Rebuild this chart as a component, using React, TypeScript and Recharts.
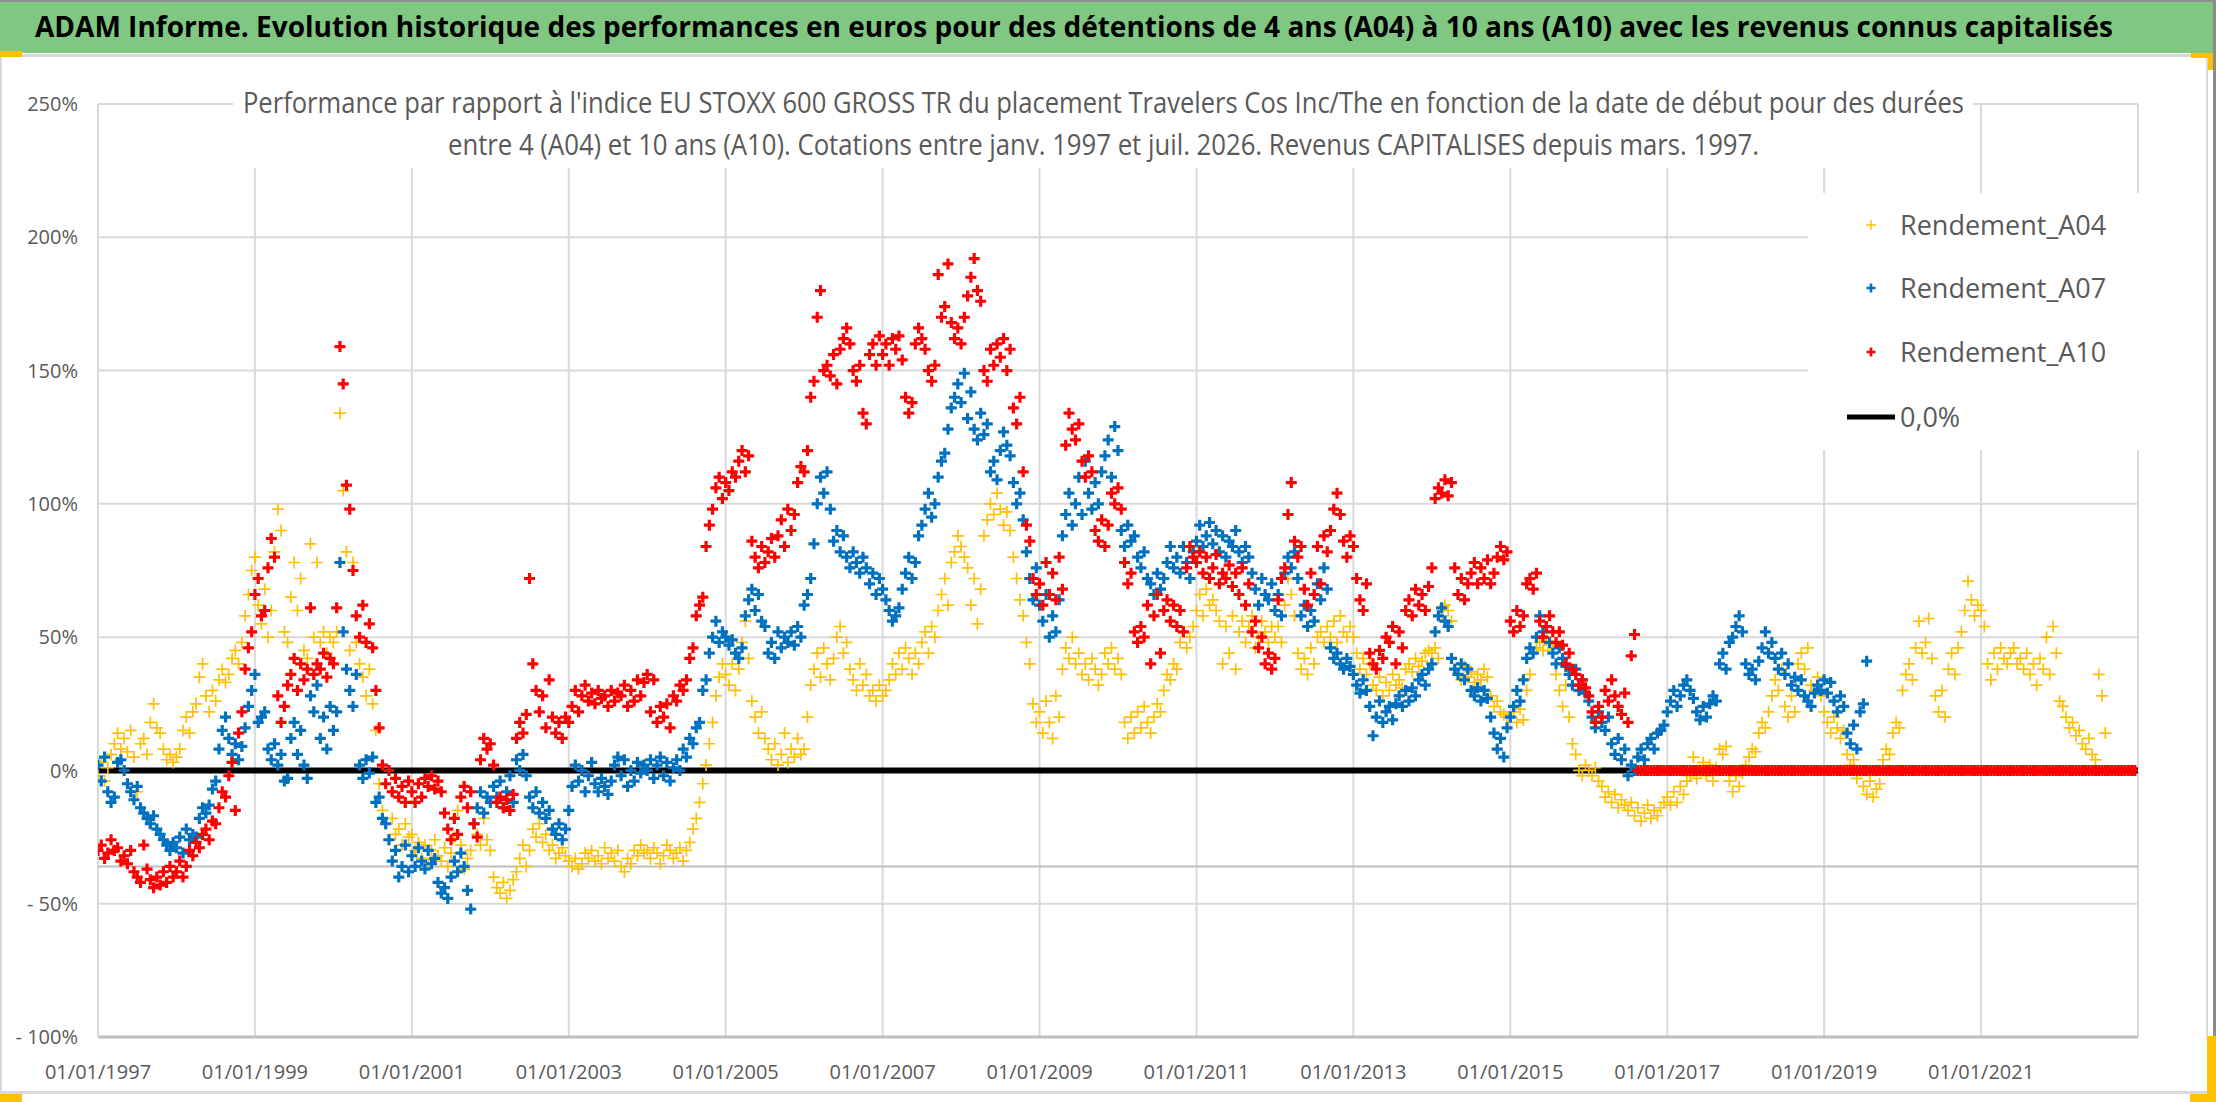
import React from 'react';
import { ComposedChart, Scatter, XAxis, YAxis, CartesianGrid, Legend } from 'recharts';

// ---------- DATA (one row per year, 24 half-month steps per row) ----------
const START_YEAR = 1997;
const STEPS_PER_YEAR = 24;

const A04_ROWS: number[][] = [
  [-2, 3, -4, 1, 6, 10, 14, 8, 12, 7, 15, 5, -8, 10, 12, 6, 18, 25, 16, 14, 8, 4, 6, 3], // 1997
  [5, 8, 15, 20, 14, 22, 25, 35, 40, 28, 22, 30, 26, 34, 38, 33, 36, 42, 45, 40, 48, 58, 66, 75], // 1998
  [80, 62, 55, 68, 50, 60, 82, 98, 90, 52, 48, 65, 78, 60, 72, 45, 42, 85, 50, 78, 48, 52, 44, 50], // 1999
  [48, 52, 134, 105, 82, 45, 78, 48, 40, 35, 28, 38, 25, 15, -5, -15, -20, -26, -18, -24, -22, -28, -20, -25], // 2000
  [-24, -30, -27, -33, -28, -35, -30, -26, -32, -34, -29, -36, -31, -25, -15, -28, -37, -33, -30, -20, -24, -28, -18, -26], // 2001
  [-30, -40, -44, -46, -42, -48, -45, -41, -38, -33, -28, -36, -30, -22, -25, -20, -27, -24, -30, -28, -33, -31, -29, -32], // 2002
  [-34, -36, -33, -37, -35, -31, -33, -30, -34, -32, -35, -29, -33, -31, -34, -30, -36, -38, -33, -35, -30, -32, -28, -31], // 2003
  [-30, -33, -29, -31, -35, -32, -28, -30, -33, -31, -29, -34, -30, -27, -22, -18, -12, -5, 2, 10, 18, 28, 35, 40], // 2004
  [36, 32, 40, 30, 38, 48, 56, 42, 26, 20, 14, 22, 12, 8, 4, 10, 2, 6, 14, 3, 8, 5, 12, 6], // 2005
  [8, 20, 32, 38, 44, 35, 46, 40, 34, 42, 50, 54, 44, 48, 38, 34, 30, 40, 32, 36, 28, 30, 26, 32], // 2006
  [28, 30, 34, 40, 36, 44, 38, 46, 42, 36, 44, 40, 48, 52, 44, 54, 50, 60, 66, 72, 62, 78, 82, 88], // 2007
  [84, 80, 76, 62, 72, 55, 68, 88, 94, 100, 96, 104, 98, 92, 97, 90, 80, 72, 64, 58, 48, 40, 25, 18], // 2008
  [22, 14, 26, 18, 12, 28, 20, 38, 46, 42, 50, 40, 44, 36, 40, 34, 42, 38, 32, 36, 44, 40, 46, 38], // 2009
  [42, 36, 18, 12, 20, 14, 22, 16, 24, 18, 14, 20, 25, 22, 30, 36, 34, 40, 38, 48, 52, 46, 50, 54], // 2010
  [60, 66, 58, 68, 62, 64, 60, 56, 40, 54, 44, 58, 38, 52, 56, 48, 54, 58, 46, 50, 56, 52, 48, 54], // 2011
  [50, 54, 48, 62, 72, 66, 58, 44, 38, 42, 36, 46, 40, 50, 52, 48, 54, 50, 56, 48, 58, 52, 50, 54], // 2012
  [50, 44, 38, 42, 36, 40, 32, 30, 35, 28, 33, 30, 36, 32, 34, 31, 38, 40, 37, 42, 39, 41, 44, 45], // 2013
  [44, 46, 42, 58, 62, 60, 56, 38, 36, 34, 39, 35, 37, 33, 36, 34, 38, 35, 28, 24, 26, 22, 21, 20], // 2014
  [20, 22, 18, 23, 19, 30, 36, 44, 46, 48, 45, 50, 47, 46, 36, 30, 24, 32, 20, 10, 6, 0, -2, 2], // 2015
  [0, -2, 1, -4, -6, -10, -8, -12, -9, -14, -11, -13, -15, -12, -17, -14, -19, -16, -13, -18, -15, -17, -14, -12], // 2016
  [-10, -13, -8, -12, -6, -9, -4, -2, 5, -3, 0, 3, -2, 2, -4, 1, 8, 6, 9, -4, -8, -2, -6, -1], // 2017
  [2, 5, 8, 7, 14, 18, 16, 22, 28, 34, 30, 38, 24, 20, 28, 22, 40, 44, 38, 46, 32, 30, 35, 28], // 2018
  [22, 18, 14, 20, 16, 12, 15, 6, 2, 4, -3, 0, -6, -9, -4, -10, -7, -5, 4, 8, 6, 14, 18, 16], // 2019
  [30, 36, 40, 34, 46, 56, 44, 48, 57, 42, 28, 22, 30, 20, 38, 44, 36, 46, 52, 60, 71, 64, 58, 62], // 2020
  [60, 54, 40, 34, 44, 38, 46, 42, 40, 44, 46, 40, 42, 38, 44, 36, 40, 32, 42, 38, 50, 36, 54, 44], // 2021
  [26, 24, 20, 16, 18, 13, 15, 10, 8, 12, 6, 4, 36, 28, 14], // 2022
];

const A07_ROWS: number[][] = [
  [2, -4, 5, -8, -12, -10, 3, 4, 0, -5, -8, -11, -6, -14, -16, -18, -20, -17, -22, -24, -26, -28, -30, -27], // 1997
  [-29, -25, -31, -22, -26, -24, -25, -18, -14, -16, -13, -7, -4, 8, 15, 20, 12, 6, 10, 4, 9, 16, 24, 30], // 1998
  [36, 18, 20, 22, 8, 4, 10, 2, 6, -4, -3, 12, 18, 6, 15, 2, -3, 28, 22, 32, 12, 20, 8, 24], // 1999
  [15, 22, 78, 52, 38, 30, 24, 36, 2, -3, 4, -1, 5, -12, -10, -18, -20, -26, -34, -30, -40, -36, -28, -38], // 2000
  [-32, -36, -29, -34, -37, -30, -35, -33, -42, -46, -44, -48, -40, -34, -38, -31, -36, -45, -52, -20, -14, -8, -16, -10], // 2001
  [-12, -6, -10, -4, -14, -8, -2, -12, 4, 0, 6, -2, -10, -14, -8, -16, -12, -18, -15, -22, -24, -20, -26, -22], // 2002
  [-15, -6, 2, -4, 0, -8, -2, 3, -5, -8, -3, -6, -9, -4, 2, 5, -2, 4, -6, 0, -4, 3, -1, 2], // 2003
  [0, 4, -3, 2, 5, -2, 3, -4, 1, 4, 0, 8, 5, 12, 10, 16, 18, 30, 34, 44, 50, 56, 48, 52], // 2004
  [50, 47, 49, 44, 42, 46, 58, 64, 68, 60, 66, 56, 54, 44, 48, 42, 52, 46, 50, 48, 52, 47, 54, 50], // 2005
  [62, 66, 72, 85, 100, 110, 104, 112, 98, 86, 90, 82, 88, 80, 76, 82, 78, 74, 80, 76, 70, 74, 66, 72], // 2006
  [68, 64, 60, 56, 58, 61, 68, 74, 80, 72, 78, 88, 92, 98, 104, 95, 100, 110, 116, 119, 128, 136, 140, 145], // 2007
  [138, 149, 132, 142, 128, 124, 134, 126, 130, 112, 116, 109, 120, 127, 122, 118, 108, 100, 104, 94, 82, 72, 64, 76], // 2008
  [62, 56, 66, 50, 58, 52, 64, 88, 96, 104, 92, 100, 110, 96, 116, 104, 98, 108, 100, 112, 118, 124, 110, 129], // 2009
  [120, 90, 84, 92, 86, 88, 80, 76, 82, 72, 70, 66, 74, 68, 72, 78, 84, 76, 80, 74, 84, 78, 72, 82], // 2010
  [86, 92, 84, 88, 93, 85, 90, 82, 88, 80, 86, 84, 90, 82, 78, 84, 80, 74, 68, 62, 72, 66, 64, 70], // 2011
  [60, 66, 58, 74, 80, 76, 82, 72, 58, 62, 54, 60, 56, 70, 64, 76, 68, 46, 42, 44, 40, 38, 42, 39], // 2012
  [36, 32, 29, 34, 30, 24, 13, 20, 26, 18, 22, 24, 19, 25, 28, 24, 30, 26, 31, 28, 34, 36, 32, 38], // 2013
  [40, 52, 58, 61, 56, 54, 42, 38, 36, 40, 34, 38, 30, 28, 31, 26, 30, 27, 20, 14, 8, 12, 5, 16], // 2014
  [20, 24, 30, 26, 34, 42, 46, 44, 50, 58, 52, 54, 48, 44, 40, 46, 42, 39, 36, 32, 38, 30, 34, 29], // 2015
  [26, 20, 16, 22, 18, 15, 20, 10, 6, 12, 4, 8, -2, 2, 0, 5, 8, 4, 10, 12, 8, 14, 15, 17], // 2016
  [22, 26, 30, 24, 28, 32, 34, 30, 27, 22, 19, 24, 20, 25, 28, 26, 40, 44, 38, 48, 50, 54, 58, 52], // 2017
  [40, 36, 38, 34, 41, 46, 52, 44, 48, 42, 38, 44, 36, 40, 32, 35, 30, 34, 28, 26, 24, 29, 32, 30], // 2018
  [34, 29, 33, 26, 22, 28, 24, 14, 10, 17, 8, 22, 25, 41], // 2019
];

const A10_ROWS: number[][] = [
  [-30, -28, -33, -31, -26, -30, -29, -34, -32, -35, -30, -38, -40, -42, -28, -37, -41, -44, -40, -43, -38, -42, -36, -40], // 1997
  [-38, -34, -40, -36, -30, -32, -27, -29, -24, -22, -26, -19, -20, -14, -8, -10, -2, 3, -15, 14, 22, 38, 46, 52], // 1998
  [66, 72, 58, 60, 76, 87, 80, 28, 18, 24, 32, 36, 42, 30, 40, 34, 38, 61, 36, 40, 38, 44, 35, 42], // 1999
  [40, 61, 159, 145, 107, 98, 75, 58, 50, 62, 48, 55, 46, 30, 16, 2, -5, 0, -8, -3, -10, -6, -12, -4], // 2000
  [-8, -12, -5, -10, -3, -6, -2, -7, -4, -8, -16, -22, -26, -18, -24, -10, -6, -14, -8, -20, -25, 4, 12, 8], // 2001
  [10, 2, -12, -10, -14, -11, -15, -9, 12, 18, 14, 21, 72, 40, 30, 22, 28, 16, 34, 20, 14, 18, 12, 20], // 2002
  [18, 24, 30, 22, 28, 32, 26, 29, 25, 30, 27, 28, 24, 30, 26, 29, 28, 32, 24, 30, 26, 34, 28, 33], // 2003
  [36, 22, 34, 18, 24, 20, 25, 16, 28, 26, 32, 30, 34, 42, 46, 58, 62, 65, 84, 92, 98, 106, 110, 102], // 2004
  [108, 105, 112, 110, 116, 120, 112, 118, 86, 80, 76, 84, 78, 82, 87, 80, 88, 94, 84, 98, 90, 96, 108, 114], // 2005
  [112, 120, 140, 146, 170, 180, 150, 152, 148, 156, 145, 158, 162, 166, 160, 150, 146, 152, 134, 130, 156, 160, 152, 163], // 2006
  [156, 160, 152, 162, 158, 163, 154, 140, 134, 138, 160, 166, 162, 158, 150, 146, 152, 186, 170, 174, 190, 168, 162, 166], // 2007
  [160, 170, 178, 185, 192, 180, 176, 150, 146, 158, 152, 160, 155, 162, 150, 158, 136, 130, 140, 112, 92, 86, 72, 66], // 2008
  [70, 62, 78, 66, 74, 64, 80, 68, 122, 134, 128, 124, 130, 116, 110, 118, 112, 90, 86, 94, 84, 92, 104, 100], // 2009
  [106, 98, 78, 70, 74, 52, 48, 54, 50, 62, 40, 58, 66, 44, 60, 64, 56, 62, 54, 60, 52, 76, 84, 80], // 2010
  [78, 82, 74, 80, 72, 76, 81, 70, 74, 72, 77, 69, 74, 66, 76, 62, 70, 52, 56, 46, 50, 40, 44, 38], // 2011
  [42, 64, 72, 76, 96, 108, 86, 80, 84, 68, 62, 74, 66, 84, 70, 88, 82, 90, 98, 104, 96, 86, 80, 88], // 2012
  [84, 72, 64, 60, 70, 44, 40, 38, 45, 42, 50, 48, 54, 40, 52, 46, 60, 64, 58, 68, 62, 66, 60, 69], // 2013
  [76, 102, 106, 104, 109, 103, 108, 76, 66, 72, 64, 70, 74, 78, 70, 76, 72, 79, 70, 74, 80, 84, 79, 82], // 2014
  [56, 52, 60, 54, 58, 70, 72, 68, 74, 56, 50, 54, 58, 52, 48, 52, 47, 40, 44, 38, 36, 32, 34, 31], // 2015
  [28, 22, 18, 24, 20, 30, 26, 34, 28, 24, 21, 29, 18, 43, 51, 0, 0, 0, 0, 0, 0, 0, 0, 0], // 2016
  [0, 0, 0, 0, 0, 0, 0, 0, 0, 0, 0, 0, 0, 0, 0, 0, 0, 0, 0, 0, 0, 0, 0, 0], // 2017
  [0, 0, 0, 0, 0, 0, 0, 0, 0, 0, 0, 0, 0, 0, 0, 0, 0, 0, 0, 0, 0, 0, 0, 0], // 2018
  [0, 0, 0, 0, 0, 0, 0, 0, 0, 0, 0, 0, 0, 0, 0, 0, 0, 0, 0, 0, 0, 0, 0, 0], // 2019
  [0, 0, 0, 0, 0, 0, 0, 0, 0, 0, 0, 0, 0, 0, 0, 0, 0, 0, 0, 0, 0, 0, 0, 0], // 2020
  [0, 0, 0, 0, 0, 0, 0, 0, 0, 0, 0, 0, 0, 0, 0, 0, 0, 0, 0, 0, 0, 0, 0, 0], // 2021
  [0, 0, 0, 0, 0, 0, 0, 0, 0, 0, 0, 0, 0, 0, 0, 0, 0, 0, 0, 0, 0, 0, 0, 0], // 2022
];

const X_TICKS = [1997, 1999, 2001, 2003, 2005, 2007, 2009, 2011, 2013, 2015, 2017, 2019, 2021];
const Y_TICKS = [-100, -50, 0, 50, 100, 150, 200, 250];
const X_DOMAIN: [number, number] = [1997, 2023];
const Y_DOMAIN: [number, number] = [-100, 250];
const ZERO_LEVEL = 0;
const FLOOR_LEVEL = -36;

const TITLE = 'ADAM Informe. Evolution historique des performances en euros pour des détentions de 4 ans (A04) à 10 ans (A10) avec les revenus connus capitalisés';
const SUBTITLE_1 = "Performance par rapport à l'indice EU STOXX 600 GROSS TR  du placement Travelers Cos Inc/The en fonction de la date de début pour des durées";
const SUBTITLE_2 = 'entre 4 (A04) et 10 ans (A10). Cotations entre janv. 1997 et juil. 2026. Revenus CAPITALISES depuis mars. 1997.';

const SERIES = [
  { name: 'Rendement_A04', color: '#FFC000', rows: A04_ROWS, arm: 6, sw: 1.7 },
  { name: 'Rendement_A07', color: '#0070C0', rows: A07_ROWS, arm: 5.5, sw: 3.2 },
  { name: 'Rendement_A10', color: '#FF0000', rows: A10_ROWS, arm: 5.5, sw: 3.2 },
];

// ---------- helpers ----------
function toPoints(rows: number[][]) {
  const out: { x: number; y: number }[] = [];
  rows.forEach((row, r) => {
    row.forEach((v, i) => {
      out.push({ x: START_YEAR + r + i / STEPS_PER_YEAR, y: v });
    });
  });
  return out;
}

const levelLine = (level: number) => [
  { x: X_DOMAIN[0], y: level },
  { x: X_DOMAIN[1], y: level },
];

const makePlus = (color: string, arm: number, sw: number) => (props: any) => {
  const { cx, cy } = props;
  if (cx == null || cy == null || isNaN(cx) || isNaN(cy)) return <g />;
  return (
    <path
      d={`M${cx - arm} ${cy}H${cx + arm}M${cx} ${cy - arm}V${cy + arm}`}
      stroke={color}
      strokeWidth={sw}
      fill="none"
    />
  );
};

const noShape = () => <g />;

const fmtPct = (v: number) => (v < 0 ? `- ${Math.abs(v)}%` : `${v}%`);
const fmtDate = (v: number) => `01/01/${v}`;

const FONT = "'Open Sans', 'Noto Sans', sans-serif";
const TEXT_GREY = '#595959';

const LegendBox = () => {
  const rows = [
    { label: SERIES[0].name, color: SERIES[0].color, arm: 5, sw: 1.4, y: 32 },
    { label: SERIES[1].name, color: SERIES[1].color, arm: 4.5, sw: 2.6, y: 95 },
    { label: SERIES[2].name, color: SERIES[2].color, arm: 4.5, sw: 2.6, y: 159 },
  ];
  return (
    <svg width={332} height={257} style={{ background: '#fff', display: 'block' }}>
      <rect x={0} y={0} width={332} height={257} fill="#fff" />
      {rows.map((r) => (
        <g key={r.label}>
          <path
            d={`M${63 - r.arm} ${r.y}H${63 + r.arm}M63 ${r.y - r.arm}V${r.y + r.arm}`}
            stroke={r.color}
            strokeWidth={r.sw}
          />
          <text x={92} y={r.y} dy="0.36em" fontFamily={FONT} fontSize={27} fill={TEXT_GREY}>
            {r.label}
          </text>
        </g>
      ))}
      <line x1={39} x2={87} y1={224} y2={224} stroke="#000" strokeWidth={5} />
      <text x={92} y={224} dy="0.36em" fontFamily={FONT} fontSize={27} fill={TEXT_GREY}>
        0,0%
      </text>
    </svg>
  );
};

export default function App() {
  const seriesPoints = SERIES.map((s) => ({ ...s, points: toPoints(s.rows) }));
  return (
    <div
      style={{
        position: 'absolute',
        left: 0,
        top: 0,
        width: 2216,
        height: 1102,
        background: '#fff',
        overflow: 'hidden',
        fontFamily: FONT,
      }}
    >
      <div style={{ position: 'absolute', left: 0, top: 0 }}>
        <ComposedChart width={2216} height={1102} margin={{ top: 104, right: 78, bottom: 0, left: 8 }}>
          <CartesianGrid stroke="#D9D9D9" strokeWidth={2} />
          <XAxis
            type="number"
            dataKey="x"
            domain={X_DOMAIN}
            ticks={X_TICKS}
            interval={0}
            height={65}
            tickSize={0}
            tickMargin={28}
            tickLine={false}
            axisLine={{ stroke: '#BFBFBF', strokeWidth: 3 }}
            tick={{ fill: TEXT_GREY, fontSize: 20, fontFamily: FONT }}
            tickFormatter={fmtDate}
            allowDataOverflow
          />
          <YAxis
            type="number"
            dataKey="y"
            domain={Y_DOMAIN}
            ticks={Y_TICKS}
            interval={0}
            width={90}
            tickSize={0}
            tickMargin={20}
            tickLine={false}
            axisLine={{ stroke: '#D9D9D9', strokeWidth: 2 }}
            tick={{ fill: TEXT_GREY, fontSize: 20, fontFamily: FONT }}
            tickFormatter={fmtPct}
            allowDataOverflow
          />
          <Legend
            layout="vertical"
            verticalAlign="middle"
            align="center"
            content={LegendBox}
            wrapperStyle={{ left: 1808, top: 193, width: 332, height: 257 }}
          />
          <Scatter
            name="floor"
            data={levelLine(FLOOR_LEVEL)}
            line={{ stroke: '#BFBFBF', strokeWidth: 2 }}
            shape={noShape}
            isAnimationActive={false}
            legendType="none"
          />
          <Scatter
            name="0,0%"
            data={levelLine(ZERO_LEVEL)}
            line={{ stroke: '#000000', strokeWidth: 6 }}
            shape={noShape}
            isAnimationActive={false}
          />
          {seriesPoints.map((s) => (
            <Scatter
              key={s.name}
              name={s.name}
              data={s.points}
              fill={s.color}
              shape={makePlus(s.color, s.arm, s.sw)}
              isAnimationActive={false}
            />
          ))}
        </ComposedChart>
      </div>
      <svg
        width={2216}
        height={1102}
        style={{ position: 'absolute', left: 0, top: 0, pointerEvents: 'none' }}
      >
        {/* header band */}
        <rect x={0} y={0} width={2216} height={53} fill="#80C882" />
        <rect x={0} y={0} width={2216} height={2} fill="#8C8C8C" />
        <rect x={2213} y={0} width={3} height={1102} fill="#8C8C8C" />
        <text
          x={35}
          y={37}
          fontFamily={FONT}
          fontWeight={700}
          fontSize={28}
          fill="#000"
          textLength={2078}
          lengthAdjust="spacingAndGlyphs"
        >
          {TITLE}
        </text>
        <rect x={0} y={54} width={2207} height={3} fill="#D9D9D9" />
        {/* chart border */}
        <rect x={0} y={57} width={2} height={1036} fill="#D9D9D9" />
        <rect x={2206} y={57} width={2} height={980} fill="#D9D9D9" />
        <rect x={0} y={1091} width={2207} height={3} fill="#D9D9D9" />
        {/* chart title box */}
        <rect x={233} y={72} width={1740} height={96} fill="#fff" />
        <text
          x={243}
          y={113}
          fontFamily={FONT}
          fontSize={29}
          fill={TEXT_GREY}
          textLength={1721}
          lengthAdjust="spacingAndGlyphs"
        >
          {SUBTITLE_1}
        </text>
        <text
          x={448}
          y={155}
          fontFamily={FONT}
          fontSize={29}
          fill={TEXT_GREY}
          textLength={1311}
          lengthAdjust="spacingAndGlyphs"
        >
          {SUBTITLE_2}
        </text>
        {/* selection handles */}
        <rect x={0} y={51} width={22} height={6} fill="#FFC000" />
        <rect x={2191} y={53} width={22} height={5} fill="#FFC000" />
        <rect x={2208} y={53} width={5} height={17} fill="#FFC000" />
        <rect x={0} y={1094} width={22} height={8} fill="#FFC000" />
        <rect x={2207} y={1036} width={9} height={66} fill="#FFC000" />
        <rect x={2190} y={1094} width={26} height={8} fill="#FFC000" />
      </svg>
    </div>
  );
}
